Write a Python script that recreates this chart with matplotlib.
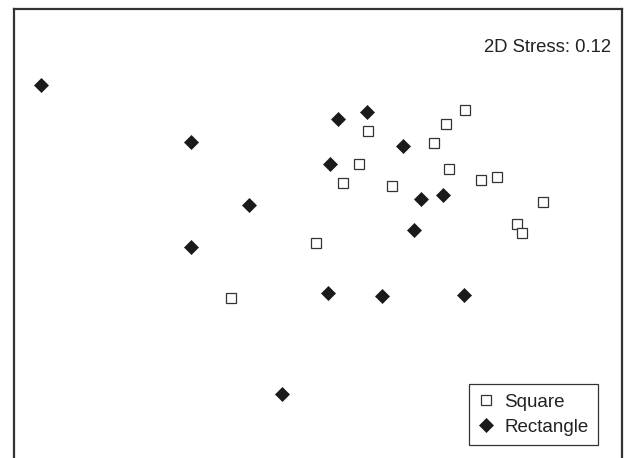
import matplotlib.pyplot as plt

plt.rcParams['font.family'] = ['Liberation Sans', 'DejaVu Sans']

# NMDS ordination coordinates (arbitrary units)
square_x = [1.47, 1.28, 0.50, 1.16, 0.41, 1.31, 0.25, 0.74, 1.63, 1.79, 2.25, 1.99, 2.04, -0.02, -0.87]
square_y = [1.40, 1.26, 1.19, 1.07, 0.86, 0.81, 0.67, 0.64, 0.70, 0.73, 0.48, 0.26, 0.17, 0.07, -0.48]

rect_x = [-2.77, -1.27, 0.20, 0.49, 0.85, 0.12, -0.69, 1.03, 1.25, 0.96, -1.27, 0.10, 0.64, 1.46, -0.36]
rect_y = [1.65, 1.08, 1.31, 1.38, 1.04, 0.86, 0.45, 0.51, 0.55, 0.20, 0.03, -0.43, -0.46, -0.45, -1.44]

stress = 0.12

fig = plt.figure(figsize=(6.24, 4.58), dpi=100)
# axes frame is cut off at the bottom of the picture
ax = fig.add_axes([14/624, -12/458, 608/624, (458 - 9 + 12)/458])

ax.plot(square_x, square_y, ls='none', marker='s', markersize=7.6,
        markerfacecolor='white', markeredgecolor='#333333', markeredgewidth=0.9,
        label='Square')
ax.plot(rect_x, rect_y, ls='none', marker='D', markersize=7,
        markerfacecolor='#1a1a1a', markeredgecolor='#1a1a1a', markeredgewidth=0.5,
        label='Rectangle')

# pixel-matched limits
ax.set_xlim((14 - 318)/100, (622 - 318)/100)
ax.set_ylim((250 - 470)/100, (250 - 9)/100)
ax.set_xticks([])
ax.set_yticks([])
for sp in ax.spines.values():
    sp.set_linewidth(1.6)
    sp.set_color('#333333')

ax.text(611/624, 1 - 47/458, '2D Stress: %.2f' % stress, transform=fig.transFigure,
        ha='right', va='center', fontsize=13.3, color='#222222')

leg = ax.legend(loc='lower right', bbox_to_anchor=(598/624, 1 - 445/458),
                bbox_transform=fig.transFigure, borderaxespad=0,
                fancybox=False, edgecolor='#333333', framealpha=1,
                fontsize=13.5, handlelength=0.8, handletextpad=0.6,
                labelspacing=0.42, borderpad=0.5)
leg.get_frame().set_linewidth(0.9)
for t in leg.get_texts():
    t.set_color('#222222')
# a bit more room on the sides of the legend box
leg._legend_box.sep = 0
leg._legend_handle_box.pad = 0

fig.savefig('out.png', dpi=100)
